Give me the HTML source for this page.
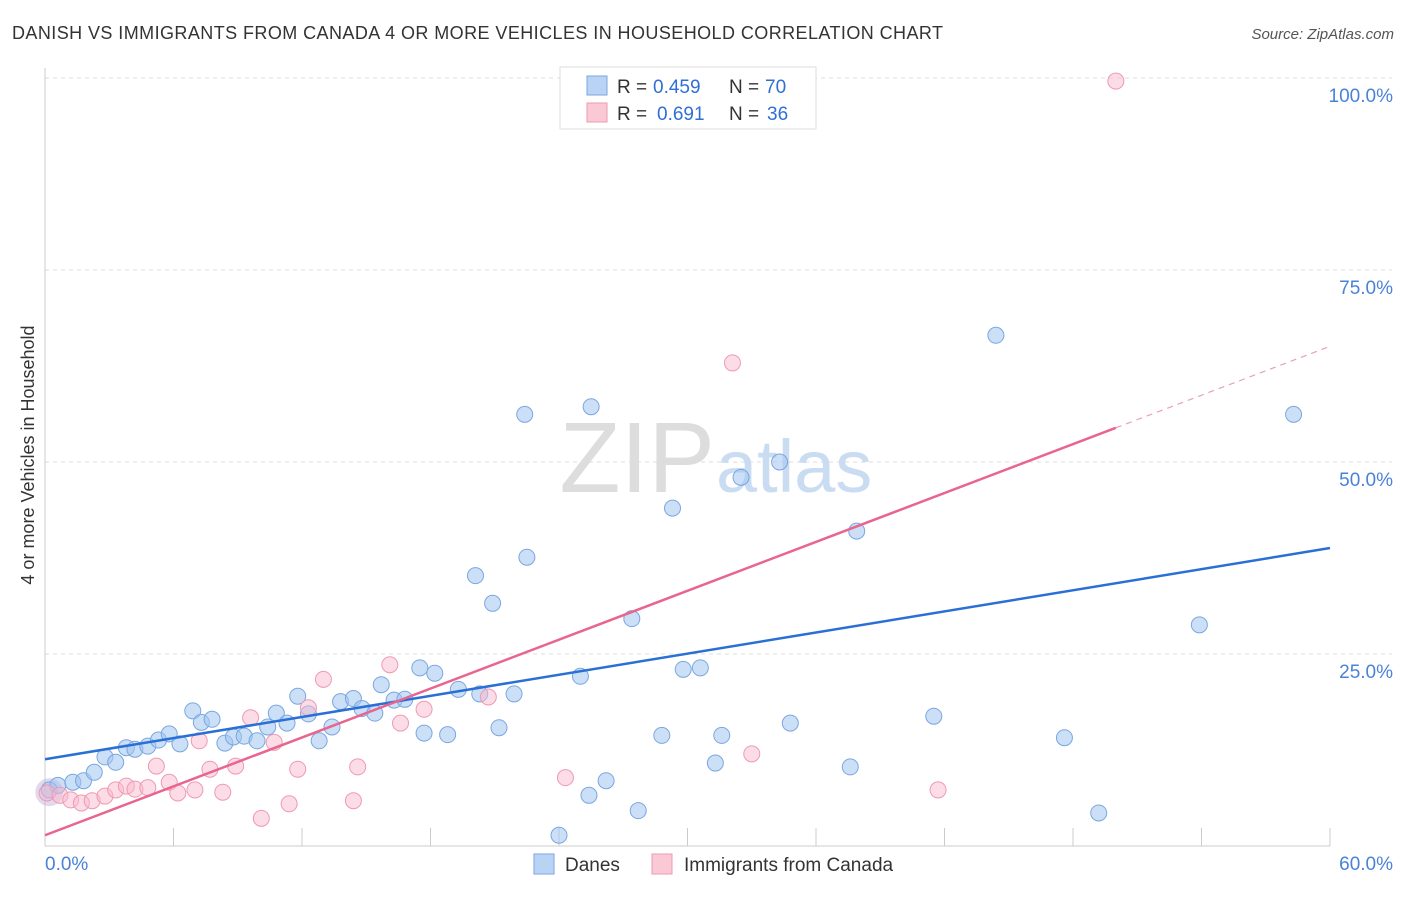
<!DOCTYPE html>
<html><head><meta charset="utf-8"><style>
body{margin:0;background:#fff;font-family:"Liberation Sans",sans-serif;}
svg text{font-family:"Liberation Sans",sans-serif;}
</style></head><body>
<svg width="1406" height="892">
<text x="12" y="39" font-size="18" fill="#333" textLength="931">DANISH VS IMMIGRANTS FROM CANADA 4 OR MORE VEHICLES IN HOUSEHOLD CORRELATION CHART</text>
<text x="1394" y="39" font-size="15" fill="#555" font-style="italic" text-anchor="end">Source: ZipAtlas.com</text>
<g id="grid"></g>
<text x="715" y="492" font-size="100" fill="#ddd" text-anchor="end" font-family="Liberation Serif">ZIP</text>
<text x="716" y="492" font-size="74" fill="#c9dcf2">atlas</text>
<text x="34" y="455" font-size="18" fill="#333" text-anchor="middle" transform="rotate(-90 34 455)">4 or more Vehicles in Household</text>
<g id="pts"></g>
<g id="lines"></g>
<g>
<rect x="560" y="67" width="256" height="62" fill="#fff" stroke="#ddd"/>
<rect x="587" y="76" width="20" height="19" fill="#b9d3f5" stroke="#7aa7e0"/>
<rect x="587" y="103" width="20" height="19" fill="#fbc8d6" stroke="#ee9ab2"/>
<text y="93" font-size="19" fill="#333"><tspan x="617">R =</tspan><tspan x="653" fill="#2f6fd6">0.459</tspan><tspan x="729">N =</tspan><tspan x="765" fill="#2f6fd6">70</tspan></text>
<text y="120" font-size="19" fill="#333"><tspan x="617">R =</tspan><tspan x="657" fill="#2f6fd6">0.691</tspan><tspan x="729">N =</tspan><tspan x="767" fill="#2f6fd6">36</tspan></text>
</g>
<g>
<rect x="534" y="854" width="20" height="20" fill="#b9d3f5" stroke="#7aa7e0"/>
<text x="565" y="871" font-size="19" fill="#333">Danes</text>
<rect x="652" y="854" width="20" height="20" fill="#fbc8d6" stroke="#ee9ab2"/>
<text x="684" y="871" font-size="19" fill="#333">Immigrants from Canada</text>
</g>
</svg>
<script>
const xTicks=[0,60];
const yTicks=[25,50,75,100];
const blueX=[0.2,0.6,1.3,1.8,2.3,2.8,3.3,3.8,4.2,4.8,5.3,5.8,6.3,6.9,7.3,7.8,8.4,8.8,9.3,9.9,10.4,10.8,11.3,11.8,12.3,12.8,13.4,13.8,14.4,14.8,15.4,15.7,16.3,16.8,17.5,17.7,18.2,18.8,19.3,20.1,20.3,20.9,21.2,21.9,22.4,22.5,24.0,25.0,25.4,25.5,26.2,27.4,27.7,28.8,29.3,29.8,30.6,31.3,31.6,32.5,34.3,34.8,37.6,37.9,41.5,44.4,47.6,49.2,53.9,58.3];
const blueY=[7.3,7.9,8.3,8.5,9.6,11.6,10.9,12.8,12.6,13.0,13.8,14.6,13.3,17.6,16.1,16.5,13.4,14.2,14.3,13.7,15.5,17.3,16.0,19.5,17.2,13.7,15.5,18.8,19.2,17.9,17.3,21.0,19.0,19.1,23.2,14.7,22.5,14.5,20.4,35.2,19.8,31.6,15.4,19.8,56.2,37.6,1.4,22.1,6.6,57.2,8.5,29.6,4.6,14.4,44.0,23.0,23.2,10.8,14.4,48.0,50.0,16.0,10.3,41.0,16.9,66.5,14.1,4.3,28.8,56.2];
const pinkX=[0.1,0.7,1.2,1.7,2.2,2.8,3.3,3.8,4.2,4.8,5.2,5.8,6.2,7.0,7.2,7.7,8.3,8.9,9.6,10.1,10.7,11.4,11.8,12.3,13.0,14.4,14.6,16.1,16.6,17.7,20.7,24.3,32.1,33.0,41.7,50.0];
const pinkY=[6.9,6.6,6.0,5.6,5.9,6.5,7.3,7.8,7.4,7.6,10.4,8.3,6.9,7.3,13.7,10.0,7.0,10.4,16.7,3.6,13.5,5.5,10.0,18.0,21.7,5.9,10.3,23.6,16.0,17.8,19.4,8.9,62.9,12.0,7.3,99.6];
const blueLine=[11.3,38.8], pinkLine=[1.4,1.061];
const X=v=>45+v*1285/60, Y=v=>846-v*7.68;
const NS='http://www.w3.org/2000/svg';
function mk(t,a,p){const e=document.createElementNS(NS,t);for(const k in a)e.setAttribute(k,a[k]);p.appendChild(e);return e;}
const g=document.getElementById('grid');
for(const t of yTicks){const l=mk('line',{x1:45,x2:1392,y1:Y(t),y2:Y(t),stroke:'#ddd','stroke-dasharray':'4,4'},g);


const tx=mk('text',{x:1393,y:Y(t)+24,'font-size':19,fill:'#4a82d8','text-anchor':'end'},g);tx.textContent=t.toFixed(1)+'%';

}
const ax=mk('line',{x1:45,x2:45,y1:68,y2:846,stroke:'#ccc'},g);


const bx=mk('line',{x1:45,x2:1330,y1:846,y2:846,stroke:'#ccc'},g);


for(let i=0;i<=10;i++){const tk=mk('line',{x1:X(i*6),x2:X(i*6),y1:828,y2:846,stroke:'#ccc'},g);

}
xTicks.forEach((t,i)=>{const tx=mk('text',{x:X(t)+(i?63:0),y:870,'font-size':19,fill:'#4a82d8','text-anchor':i?'end':'start'},g);tx.textContent=t.toFixed(1)+'%';

});
const p=document.getElementById('pts');
const big=mk('circle',{cx:X(0.2),cy:Y(7),r:14,fill:'rgba(200,180,220,0.5)',stroke:'none'},p);


blueX.forEach((x,i)=>{const c=mk('circle',{cx:X(x),cy:Y(blueY[i]),r:8,fill:'rgba(160,196,240,0.55)',stroke:'#7aa7e0','stroke-width':1},p);

});
pinkX.forEach((x,i)=>{const c=mk('circle',{cx:X(x),cy:Y(pinkY[i]),r:8,fill:'rgba(249,185,205,0.5)',stroke:'#ee9ab2','stroke-width':1},p);

});
const L=document.getElementById('lines');
const b=mk('line',{x1:X(0),y1:Y(blueLine[0]),x2:X(60),y2:Y(blueLine[1]),stroke:'#2a6fd6','stroke-width':2.5},L);


const pe=50;
const pk=mk('line',{x1:X(0),y1:Y(pinkLine[0]),x2:X(pe),y2:Y(pinkLine[0]+pinkLine[1]*pe),stroke:'#e8658f','stroke-width':2.5},L);


const pd=mk('line',{x1:X(pe),y1:Y(pinkLine[0]+pinkLine[1]*pe),x2:X(60),y2:Y(pinkLine[0]+pinkLine[1]*60),stroke:'#e8a0b8','stroke-width':1.2,'stroke-dasharray':'6,5'},L);


</script>
</body></html>
